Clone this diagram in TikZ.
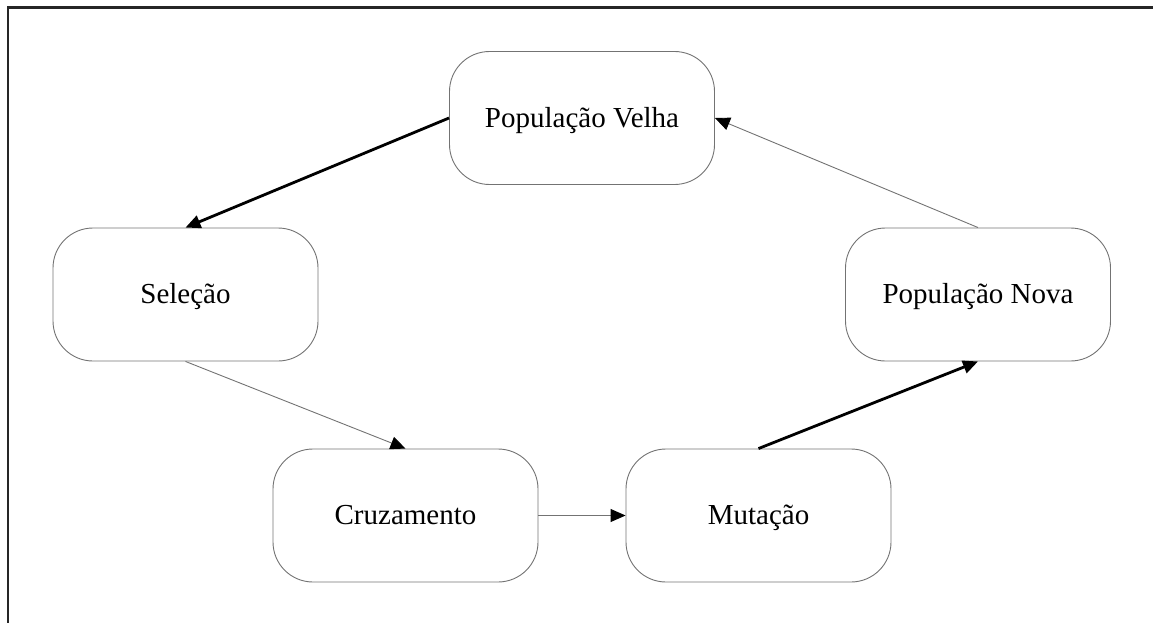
\documentclass[tikz,border=0pt]{standalone}
\usepackage{fontspec}
\setmainfont{Liberation Serif}
\usetikzlibrary{arrows.meta}
\begin{document}
\begin{tikzpicture}[x=1pt,y=-1pt,
  stage/.style={draw=black!55, line width=0.9pt, rounded corners=40pt,
    minimum width=265pt, minimum height=133pt, inner sep=0pt,
    text height=21.8pt, text depth=3.5pt,
    font=\fontsize{29}{34}\selectfont},
  thinflow/.style={draw=black!55, line width=0.9pt,
    -{Triangle[length=15pt,width=13pt,black]}},
  thickflow/.style={draw=black, line width=2.8pt,
    -{Triangle[length=15pt,width=13pt,black]}}]
  \useasboundingbox (0,0) rectangle (1153,623);
  % outer frame (top and left edges)
  \draw[line width=2.4pt, black!85] (8,623) -- (8,7.5) -- (1153,7.5);

  % stages of the cycle
  \node[stage] (velha) at (582,118) {População Velha};
  \node[stage] (sel)   at (185.5,294.5) {Seleção};
  \node[stage] (cruz)  at (405.5,515.5) {Cruzamento};
  \node[stage] (mut)   at (758.5,515.5) {Mutação};
  \node[stage] (nova)  at (978,294.5) {População Nova};

  % flow between stages
  \draw[thickflow] (velha.west) -- (sel.north);
  \draw[thinflow]  (sel.south) -- (cruz.north);
  \draw[thinflow]  (cruz.east) -- (mut.west);
  \draw[thickflow] (mut.north) -- (nova.south);
  \draw[thinflow]  (nova.north) -- (velha.east);
\end{tikzpicture}
\end{document}
